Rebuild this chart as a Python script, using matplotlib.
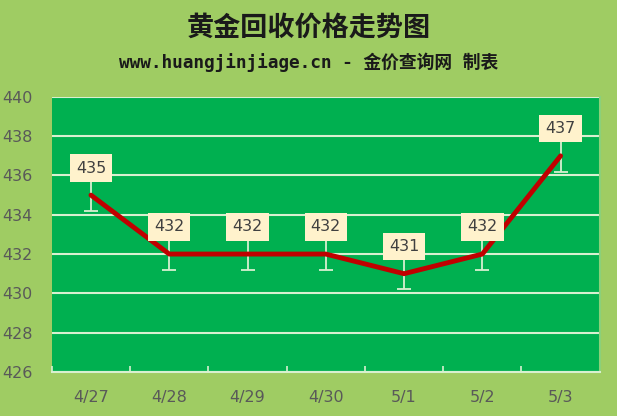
import numpy as np
import matplotlib
matplotlib.use('Agg')
import matplotlib.pyplot as plt

# dados
dates = ['4/27', '4/28', '4/29', '4/30', '5/1', '5/2', '5/3']
prices = [435, 432, 432, 432, 431, 432, 437]
err = 0.8

bg = '#9FCC63'
plot_bg = '#00B050'
line_c = '#C00000'
grid_c = '#D8F0D0'

fig = plt.figure(figsize=(6.17, 4.16), dpi=100)
fig.patch.set_facecolor(bg)
ax = fig.add_axes([0.084, 0.106, 0.888, 0.661])
ax.set_facecolor(plot_bg)

x = np.arange(len(dates))
ax.errorbar(x, prices, yerr=err, fmt='none', ecolor=grid_c, elinewidth=1.3,
            capsize=5, capthick=1.3, zorder=3)
ax.plot(x, prices, color=line_c, linewidth=3.5, zorder=4, solid_capstyle='round')

for xi, v in zip(x, prices):
    ax.annotate(str(v), (xi, v), xytext=(0, 19.5), textcoords='offset points',
                ha='center', va='center', fontsize=11.5, color='#404040',
                family='DejaVu Sans', zorder=5,
                bbox=dict(boxstyle='square,pad=0.38', fc='#FFF2CC', ec='none'))

ax.set_xlim(-0.5, len(dates) - 0.5)
ax.set_ylim(426, 440)
ax.set_yticks(np.arange(426, 441, 2))
ax.set_xticks(x)
ax.set_xticklabels(dates)
ax.set_xticks(np.arange(-0.5, len(dates)), minor=True)
ax.yaxis.grid(True, color=grid_c, linewidth=1.5)
ax.set_axisbelow(True)
ax.tick_params(axis='y', length=0, colors='#595959', labelsize=11.5, pad=14)
ax.tick_params(axis='x', which='major', length=0, colors='#595959', labelsize=11.5, pad=13)
ax.tick_params(axis='x', which='minor', length=4, color=grid_c, width=1.2, direction='in')
for s in ['top', 'left']:
    ax.spines[s].set_visible(False)
ax.spines['right'].set_color('#8BD07A')
ax.spines['right'].set_linewidth(1.5)
ax.spines['bottom'].set_color(grid_c)
ax.spines['bottom'].set_linewidth(1.5)

fig.text(0.5, 0.933, '黄金回收价格走势图', ha='center', va='center', fontsize=19.5,
         fontweight='bold', family=['Noto Sans CJK SC', 'DejaVu Sans'], color='#1A1A1A')
fig.text(0.5, 0.851, 'www.huangjinjiage.cn - 金价查询网 制表', ha='center', va='center',
         fontsize=12.8, fontweight='bold',
         family=['DejaVu Sans Mono', 'Noto Sans CJK SC'], color='#1A1A1A')

fig.savefig('out.png', dpi=100, facecolor=bg)
